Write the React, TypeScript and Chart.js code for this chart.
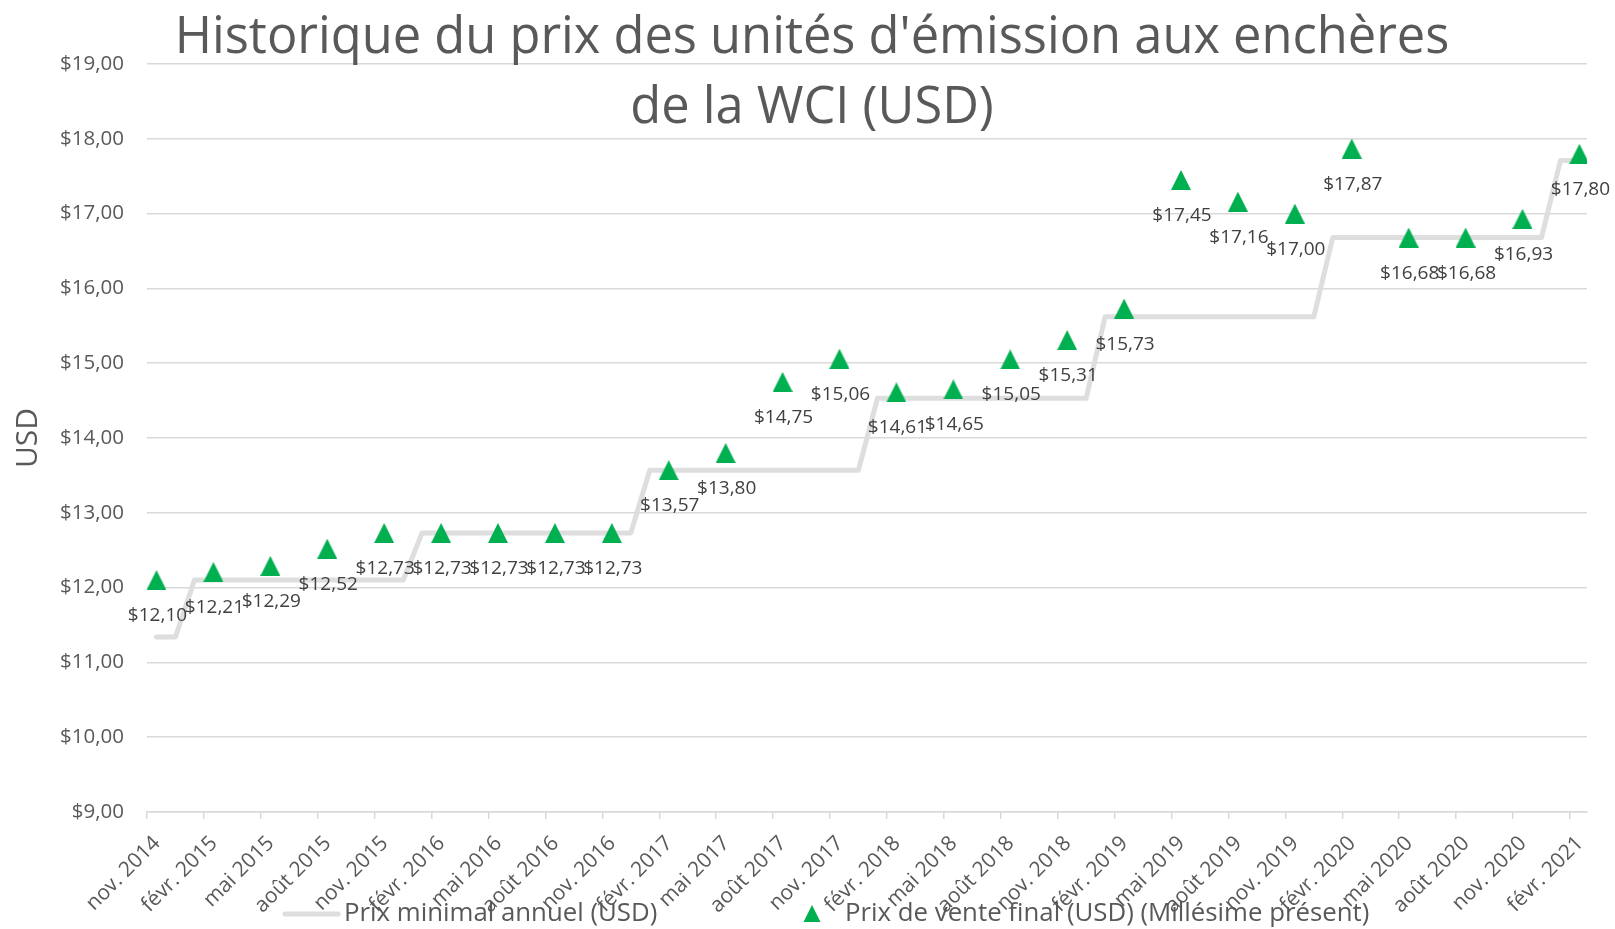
import React, { useEffect, useRef } from 'react';
import { Chart, registerables } from 'chart.js';

Chart.register(...registerables);

// ---------- Data ----------
const titleLines = ["Historique du prix des unités d'émission aux enchères", 'de la WCI (USD)'];
const yAxisTitle = 'USD';
const seriesNames = ['Prix minimal annuel (USD)', 'Prix de vente final (USD) (Millésime présent)'];

const xTickLabels = [
  'nov. 2014', 'févr. 2015', 'mai 2015', 'août 2015', 'nov. 2015', 'févr. 2016', 'mai 2016',
  'août 2016', 'nov. 2016', 'févr. 2017', 'mai 2017', 'août 2017', 'nov. 2017', 'févr. 2018',
  'mai 2018', 'août 2018', 'nov. 2018', 'févr. 2019', 'mai 2019', 'août 2019', 'nov. 2019',
  'févr. 2020', 'mai 2020', 'août 2020', 'nov. 2020', 'févr. 2021',
];

const auctionMonths = [
  '2014-11', '2015-02', '2015-05', '2015-08', '2015-11', '2016-02', '2016-05',
  '2016-08', '2016-11', '2017-02', '2017-05', '2017-08', '2017-11', '2018-02',
  '2018-05', '2018-08', '2018-11', '2019-02', '2019-05', '2019-08', '2019-11',
  '2020-02', '2020-05', '2020-08', '2020-11', '2021-02',
];

const finalPrices = [
  12.10, 12.21, 12.29, 12.52, 12.73, 12.73, 12.73,
  12.73, 12.73, 13.57, 13.80, 14.75, 15.06, 14.61,
  14.65, 15.05, 15.31, 15.73, 17.45, 17.16, 17.00,
  17.87, 16.68, 16.68, 16.93, 17.80,
];

const floorYears = [2014, 2015, 2016, 2017, 2018, 2019, 2020, 2021];
const floorPrices = [11.34, 12.10, 12.73, 13.57, 14.53, 15.62, 16.68, 17.71];

const yMin = 9;
const yMax = 19;

// ---------- Helpers ----------
const ORIGIN_YEAR = 2014;
const ORIGIN_MONTH = 11;
function monthIndex(ym: string): number {
  const [y, m] = ym.split('-').map(Number);
  return (y - ORIGIN_YEAR) * 12 + (m - ORIGIN_MONTH);
}
const midMonth = (ym: string) => monthIndex(ym) + 0.5;

const fmt = (v: number) => '$' + v.toFixed(2).replace('.', ',');

const auctionPoints = auctionMonths.map((m, i) => ({ x: midMonth(m), y: finalPrices[i] }));

function buildFloorPoints() {
  const pts: { x: number; y: number }[] = [];
  pts.push({ x: auctionPoints[0].x, y: floorPrices[0] });
  for (let i = 1; i < floorYears.length; i++) {
    const yr = floorYears[i];
    pts.push({ x: midMonth(`${yr - 1}-12`), y: floorPrices[i - 1] });
    pts.push({ x: midMonth(`${yr}-01`), y: floorPrices[i] });
  }
  pts.push({ x: auctionPoints[auctionPoints.length - 1].x, y: floorPrices[floorPrices.length - 1] });
  return pts;
}

const GREEN = '#00b050';
const LINE_GREY = '#dedede';
const GRID_GREY = '#d9d9d9';
const TEXT_GREY = '#595959';
const LABEL_GREY = '#404040';
const FONT = "'Open Sans', 'Noto Sans', sans-serif";

function makeTriangle(w: number, h: number): HTMLCanvasElement {
  const c = document.createElement('canvas');
  c.width = w;
  c.height = h;
  const g = c.getContext('2d')!;
  g.fillStyle = GREEN;
  g.beginPath();
  g.moveTo(w / 2, 0);
  g.lineTo(w, h);
  g.lineTo(0, h);
  g.closePath();
  g.fill();
  return c;
}

// ---------- Plugins ----------
const titlePlugin = {
  id: 'customTitle',
  afterDraw(chart: any) {
    const ctx = chart.ctx;
    ctx.save();
    ctx.fillStyle = TEXT_GREY;
    ctx.font = `50.6px ${FONT}`;
    ctx.textAlign = 'center';
    ctx.textBaseline = 'alphabetic';
    const cx = 812;
    ctx.fillText(titleLines[0], cx, 53);
    ctx.fillText(titleLines[1], cx, 123);
    ctx.restore();
  },
};

const dataLabelPlugin = {
  id: 'dataLabels',
  afterDatasetsDraw(chart: any) {
    const ctx = chart.ctx;
    const meta = chart.getDatasetMeta(1);
    ctx.save();
    ctx.fillStyle = LABEL_GREY;
    ctx.font = `19px ${FONT}`;
    ctx.textAlign = 'center';
    ctx.textBaseline = 'alphabetic';
    meta.data.forEach((el: any, i: number) => {
      ctx.fillText(fmt(finalPrices[i]), el.x + 1, el.y + 41);
    });
    ctx.restore();
  },
};

const legendPlugin = {
  id: 'customLegend',
  afterDraw(chart: any) {
    const ctx = chart.ctx;
    const y = 914;
    ctx.save();
    // item 1: line
    ctx.strokeStyle = LINE_GREY;
    ctx.lineWidth = 5;
    ctx.lineCap = 'round';
    ctx.beginPath();
    ctx.moveTo(285, y);
    ctx.lineTo(338, y);
    ctx.stroke();
    ctx.fillStyle = TEXT_GREY;
    ctx.font = `25.8px ${FONT}`;
    ctx.textAlign = 'left';
    ctx.textBaseline = 'middle';
    ctx.fillText(seriesNames[0], 344, y);
    // item 2: triangle
    ctx.fillStyle = GREEN;
    ctx.beginPath();
    ctx.moveTo(812, y - 9);
    ctx.lineTo(820.5, y + 8);
    ctx.lineTo(803.5, y + 8);
    ctx.closePath();
    ctx.fill();
    ctx.fillStyle = TEXT_GREY;
    ctx.fillText(seriesNames[1], 845, y);
    ctx.restore();
  },
};

export default function App() {
  const ref = useRef<HTMLCanvasElement | null>(null);

  useEffect(() => {
    if (!ref.current) return;
    const tri = makeTriangle(20, 20);
    const chart = new Chart(ref.current, {
      type: 'line',
      data: {
        datasets: [
          {
            label: seriesNames[0],
            data: buildFloorPoints(),
            borderColor: LINE_GREY,
            borderWidth: 5,
            borderJoinStyle: 'round',
            borderCapStyle: 'round',
            pointRadius: 0,
            tension: 0,
            fill: false,
            order: 2,
          },
          {
            label: seriesNames[1],
            data: auctionPoints,
            showLine: false,
            pointStyle: tri as any,
            pointRadius: 10,
            pointBackgroundColor: GREEN,
            pointBorderColor: GREEN,
            order: 1,
          },
        ],
      },
      options: {
        animation: false,
        responsive: false,
        events: [],
        layout: { padding: { top: 64, right: 28, left: 0, bottom: 0 } },
        plugins: {
          legend: { display: false },
          title: { display: false },
          tooltip: { enabled: false },
        },
        scales: {
          x: {
            type: 'linear',
            min: 0,
            max: 75.9,
            afterBuildTicks: (scale: any) => {
              scale.ticks = xTickLabels.map((_, i) => ({ value: i * 3 }));
            },
            afterFit: (scale: any) => {
              scale.height = 117;
            },
            ticks: {
              autoSkip: false,
              maxRotation: 45,
              minRotation: 45,
              labelOffset: 10,
              padding: 12,
              color: TEXT_GREY,
              font: { family: FONT, size: 21 },
              callback: (v: any) => xTickLabels[Math.round(Number(v) / 3)] ?? '',
            },
            grid: {
              display: true,
              drawOnChartArea: false,
              drawTicks: true,
              tickLength: 7,
              color: GRID_GREY,
              lineWidth: 1.5,
            },
            border: { display: true, color: GRID_GREY, width: 1.5 },
          },
          y: {
            type: 'linear',
            min: yMin,
            max: yMax,
            afterFit: (scale: any) => {
              scale.width = 147;
            },
            ticks: {
              stepSize: 1,
              padding: 23,
              color: TEXT_GREY,
              font: { family: FONT, size: 20.5 },
              callback: (v: any) => fmt(Number(v)),
            },
            grid: {
              color: GRID_GREY,
              lineWidth: 1.5,
              drawTicks: false,
            },
            border: { display: false },
            title: {
              display: true,
              text: yAxisTitle,
              color: TEXT_GREY,
              font: { family: FONT, size: 30 },
              padding: { top: 10, bottom: 0 },
            },
          },
        },
      },
      plugins: [dataLabelPlugin, titlePlugin, legendPlugin],
    } as any);
    return () => chart.destroy();
  }, []);

  return (
    <div style={{ position: 'absolute', left: 0, top: 0, width: 1615, height: 929, background: '#fff' }}>
      <canvas ref={ref} width={1615} height={929} style={{ display: 'block' }} />
    </div>
  );
}
